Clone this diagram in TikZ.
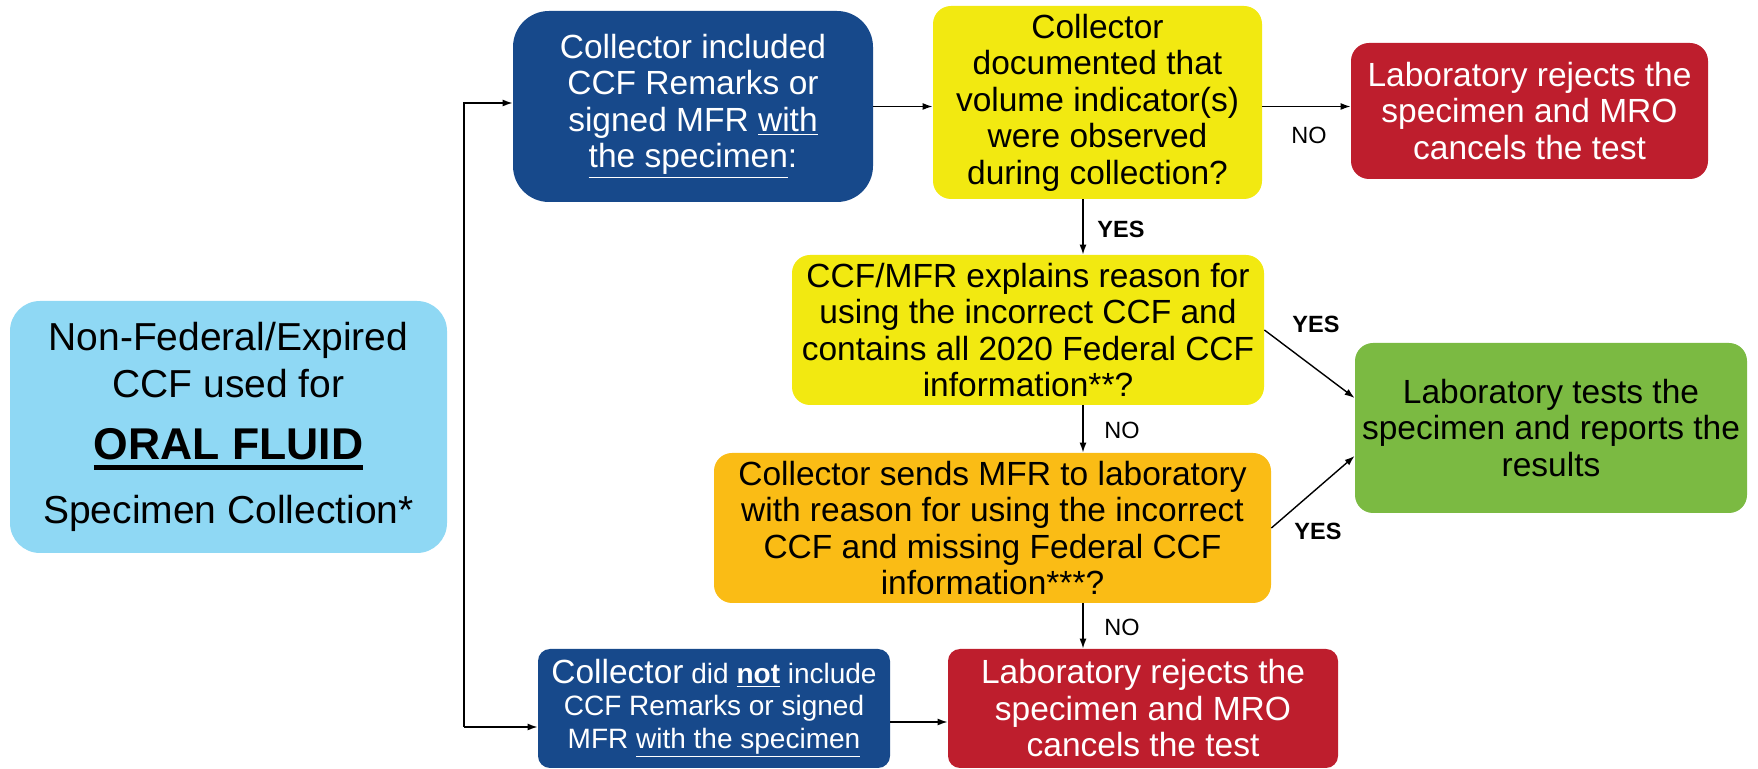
\documentclass[tikz,border=0pt]{standalone}
\usepackage{fontspec}
\setmainfont{Liberation Sans}
\usetikzlibrary{arrows.meta}

\definecolor{skyblue}{RGB}{143,216,244}
\definecolor{navyblue}{RGB}{23,73,139}
\definecolor{lemon}{RGB}{242,233,17}
\definecolor{labred}{RGB}{190,30,45}
\definecolor{amber}{RGB}{250,188,21}
\definecolor{leafgreen}{RGB}{123,186,66}

\newcommand{\thickul}[1]{\leavevmode\vtop{\hbox{#1}\kern2.6pt\hrule height 2.2pt}}

\begin{document}
\begin{tikzpicture}[x=0.5pt,y=-0.5pt,
    box/.style={rounded corners=9pt, align=center, inner sep=0pt,
                font=\fontsize{16.75}{18.25}\selectfont},
    arr/.style={-{Latex[length=5pt,width=3.5pt]}, line width=0.7pt},
    lbl/.style={inner sep=0pt, font=\fontsize{11.75}{14}\selectfont},
    lblb/.style={lbl, font=\fontsize{11.75}{14}\selectfont\bfseries}]
        \useasboundingbox (0,0) rectangle (1758,769);

        \coordinate (brtop) at (464,103);
        \coordinate (brbot) at (464,727);
        \coordinate (spine) at (1083,0);

        \node[box, fill=skyblue, rounded corners=15pt, minimum width=218.5pt, minimum height=126pt,
              font=\fontsize{19.5}{23.5}\selectfont] (startbox) at (228.5,427)
              {Non-Federal/Expired\\ CCF used for\\[7.5pt]
               {\bfseries\fontsize{22.25}{23.5}\selectfont\thickul{ORAL FLUID}}\\[8.5pt]
               Specimen Collection*};
        \node[box, fill=navyblue, text=white, rounded corners=18pt, minimum width=180pt, minimum height=95.5pt]
              (collyes) at (693,106.5)
              {Collector included\\ CCF Remarks or\\ signed MFR \underline{with}\\ \underline{the specimen}:};
        \node[box, fill=lemon, minimum width=164.5pt, minimum height=96.5pt] (volobs) at (1097.5,102.5)
              {Collector\\ documented that\\ volume indicator(s)\\ were observed\\ during collection?};
        \node[box, fill=labred, text=white, minimum width=178.5pt, minimum height=68pt] (rejtop) at (1529.5,111)
              {Laboratory rejects the\\ specimen and MRO\\ cancels the test};
        \node[box, fill=lemon, minimum width=236pt, minimum height=75pt] (explain) at (1028,330)
              {CCF/MFR explains reason for\\ using the incorrect CCF and\\ contains all 2020 Federal CCF\\ information**?};
        \node[box, fill=amber, minimum width=278.5pt, minimum height=75pt] (sendmfr) at (992.5,528)
              {Collector sends MFR to laboratory\\ with reason for using the incorrect\\ CCF and missing Federal CCF\\ information***?};
        \node[box, fill=leafgreen, minimum width=196pt, minimum height=85pt] (tests) at (1551,428)
              {Laboratory tests the\\ specimen and reports the\\ results};
        \node[box, fill=navyblue, text=white, rounded corners=6pt, minimum width=176pt, minimum height=59.5pt,
              font=\fontsize{14}{16.25}\selectfont] (collno) at (714,708.5)
              {{\fontsize{16.75}{16.25}\selectfont Collector} did \textbf{\underline{not}} include\\
               CCF Remarks or signed\\ MFR \underline{with the specimen}};
        \node[box, fill=labred, text=white, rounded corners=6pt, minimum width=195pt, minimum height=59.5pt]
              (rejbot) at (1143,708.5)
              {Laboratory rejects the\\ specimen and MRO\\ cancels the test};

        % bracket from the start box
        \draw[arr] (brbot) -- (brtop) -- (brtop -| collyes.west);
        \draw[arr] (brbot) -- (brbot -| collno.west);

        \draw[arr] (collyes.east) -- (collyes.east -| volobs.west);
        \draw[arr] (volobs.east |- collyes.east) -- (collyes.east -| rejtop.west);
        \draw[arr] (volobs.south -| spine) -- (explain.north -| spine);
        \draw[arr] (explain.east) -- ([yshift=15pt]tests.west);
        \draw[arr] (explain.south -| spine) -- (sendmfr.north -| spine);
        \draw[arr] (sendmfr.east) -- ([yshift=-14pt]tests.west);
        \draw[arr] (sendmfr.south -| spine) -- (rejbot.north -| spine);
        \draw[arr] ([yshift=-6.75pt]collno.east) -- ([yshift=-6.75pt]collno.east -| rejbot.west);

        \node[lbl]  (noA)  at (1309,135) {NO};
        \node[lblb] (yesA) at (1121,229) {YES};
        \node[lblb] (yesB) at (1316,324) {YES};
        \node[lbl]  (noB)  at (1122,430) {NO};
        \node[lblb] (yesC) at (1318,531) {YES};
        \node[lbl]  (noC)  at (1122,627) {NO};
    \end{tikzpicture}
\end{document}
